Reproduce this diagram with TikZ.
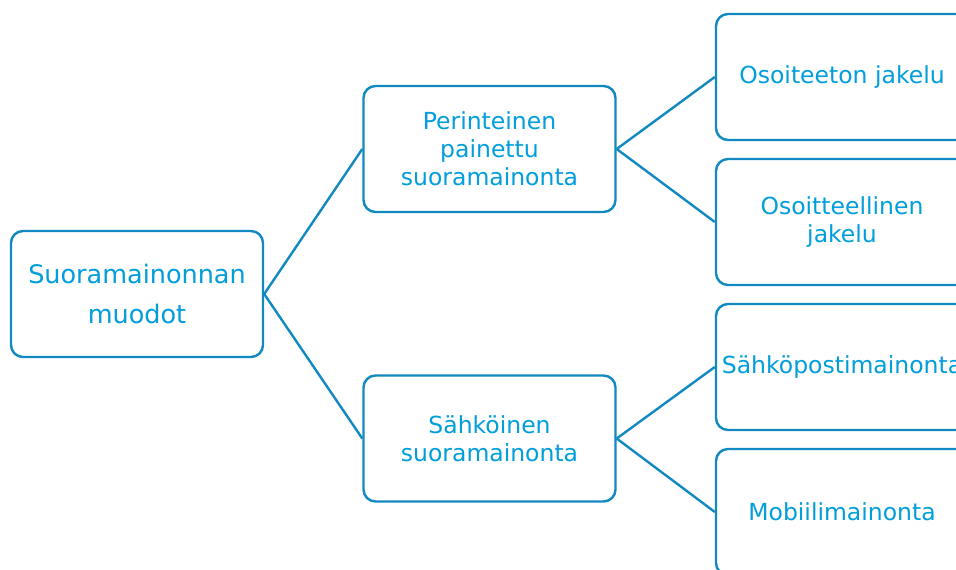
\documentclass[tikz,border=0pt]{standalone}
\usepackage{fontspec}
\setmainfont{DejaVu Sans}
\definecolor{boxblue}{RGB}{18,137,192}
\definecolor{textblue}{RGB}{0,158,219}

\begin{document}
\begin{tikzpicture}[x=1pt,y=-1pt,
    box/.style={draw=boxblue, line width=2.4pt, rounded corners=12pt, fill=white,
        minimum width=252pt, minimum height=126pt, align=center, text=textblue,
        inner sep=0pt, font=\fontsize{23.5}{28}\selectfont},
    rootbox/.style={box, font=\fontsize{25.5}{40}\selectfont},
    link/.style={draw=boxblue, line width=2.4pt}]
    \useasboundingbox (0,0) rectangle (956,570);
    \clip (0,0) rectangle (956,570);

    \node[rootbox] (root) at (137,294) {Suoramainonnan\\muodot};

    \node[box] (print)   at (489.5,149)   {Perinteinen\\painettu\\suoramainonta};
    \node[box] (digital) at (489.5,438.5) {Sähköinen\\suoramainonta};

    \node[box] (unaddr) at (842,77)  {Osoiteeton jakelu};
    \node[box] (addr)   at (842,222) {Osoitteellinen\\jakelu};
    \node[box] (email)  at (842,367) {Sähköpostimainonta};
    \node[box] (mobile) at (842,512) {Mobiilimainonta};

    \draw[link] (root.east) -- (print.west);
    \draw[link] (root.east) -- (digital.west);
    \draw[link] (print.east) -- (unaddr.west);
    \draw[link] (print.east) -- (addr.west);
    \draw[link] (digital.east) -- (email.west);
    \draw[link] (digital.east) -- (mobile.west);
\end{tikzpicture}
\end{document}
